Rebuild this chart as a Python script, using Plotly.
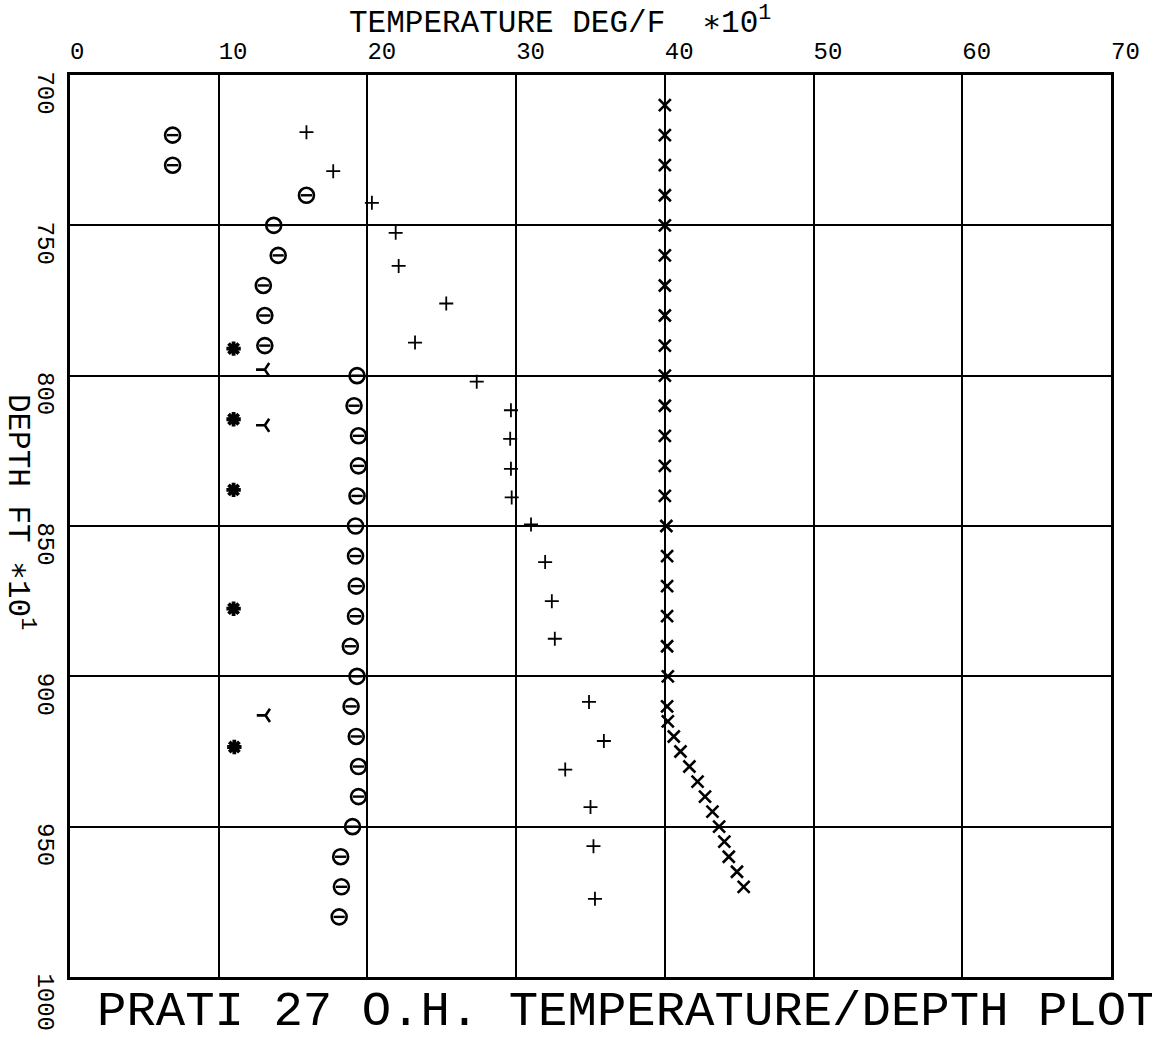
import plotly.graph_objects as go

FONT = "Liberation Mono, DejaVu Sans Mono, monospace"
NB = "\u00a0"

# Depth in ft x10, temperature in deg F x10 for each survey run
theta_depth = [720, 730, 740, 750, 760, 770, 780, 790, 800, 810, 820, 830, 840, 850,
               860, 870, 880, 890, 900, 910, 920, 930, 940, 950, 960, 970, 980]
theta_temp = [6.9, 6.9, 15.9, 13.7, 14.0, 13.0, 13.1, 13.1, 19.3, 19.1, 19.4, 19.4, 19.3, 19.2,
              19.2, 19.25, 19.2, 18.85, 19.3, 18.9, 19.25, 19.4, 19.4, 19.0, 18.2, 18.25, 18.1]

plus_depth = [719, 732, 742.5, 752.5, 763.5, 776, 789, 802, 811.5, 821, 831, 840.5,
              849.5, 862, 875, 887.5, 908.5, 921.5, 931, 943.5, 956.5, 974]
plus_temp = [15.9, 17.7, 20.3, 21.9, 22.1, 25.3, 23.2, 27.35, 29.65, 29.6, 29.65, 29.7,
             31.0, 31.95, 32.4, 32.6, 34.9, 35.9, 33.3, 35.0, 35.2, 35.3]

cross_depth = [710, 720, 730, 740, 750, 760, 770, 780, 790, 800, 810, 820, 830, 840,
               850, 860, 870, 880, 890, 900, 910, 915, 920, 925, 930, 935, 940, 945,
               950, 955, 960, 965, 970]
cross_temp = [40.0, 40.0, 40.0, 40.0, 40.0, 40.0, 40.0, 40.0, 40.0, 40.0, 40.0, 40.0, 40.0, 40.0,
              40.1, 40.15, 40.15, 40.15, 40.15, 40.2, 40.15, 40.2, 40.6, 41.05, 41.65, 42.2, 42.7, 43.2,
              43.65, 44.0, 44.3, 44.85, 45.3]

star_depth = [791, 814.5, 838, 877.5, 923.5]
star_temp = [11.0, 11.0, 11.0, 11.0, 11.05]

fork_depth = [798, 816.5, 913]
fork_temp = [13.1, 13.1, 13.15]

x_ticks = [0, 10, 20, 30, 40, 50, 60, 70]
y_ticks = [700, 750, 800, 850, 900, 950, 1000]

# labels start at their grid line: pad the front with as many spaces as characters
def lead(label):
    return NB * len(label) + label

x_ticktext = [lead(str(v)) for v in x_ticks]
y_ticktext = [lead(str(v)) for v in y_ticks]

BLACK = "#000000"
fig = go.Figure()

fig.add_trace(go.Scatter(x=theta_temp, y=theta_depth, mode="markers",
                         marker=dict(symbol="circle-open", size=15, color=BLACK,
                                     line=dict(width=2.6, color=BLACK))))
fig.add_trace(go.Scatter(x=theta_temp, y=theta_depth, mode="markers",
                         marker=dict(symbol="line-ew-open", size=8, color=BLACK,
                                     line=dict(width=2.4, color=BLACK))))
fig.add_trace(go.Scatter(x=plus_temp, y=plus_depth, mode="markers",
                         marker=dict(symbol="cross-thin-open", size=10, color=BLACK,
                                     line=dict(width=1.8, color=BLACK))))
fig.add_trace(go.Scatter(x=cross_temp, y=cross_depth, mode="markers",
                         marker=dict(symbol="x-thin-open", size=12, color=BLACK,
                                     line=dict(width=2.6, color=BLACK))))
fig.add_trace(go.Scatter(x=star_temp, y=star_depth, mode="markers",
                         marker=dict(symbol="asterisk-open", size=12, color=BLACK,
                                     line=dict(width=3.8, color=BLACK))))
fig.add_trace(go.Scatter(x=fork_temp, y=fork_depth, mode="markers",
                         marker=dict(symbol="y-left-open", size=11, color=BLACK,
                                     line=dict(width=2.6, color=BLACK))))

fig.update_layout(
    width=1152, height=1043,
    margin=dict(l=70, r=38, t=75, b=64),
    paper_bgcolor="white", plot_bgcolor="white",
    showlegend=False,
    font=dict(family=FONT, color=BLACK),
    xaxis=dict(range=[0, 70], side="top", tickvals=x_ticks, ticktext=x_ticktext,
               showgrid=True, gridcolor=BLACK, gridwidth=2, zeroline=False,
               showline=True, linecolor=BLACK, linewidth=2.5, mirror=True,
               ticks="", tickfont=dict(family=FONT, size=24, color=BLACK),
               ticklabelstandoff=4),
    yaxis=dict(range=[1000, 700], tickvals=y_ticks, ticktext=y_ticktext,
               showgrid=True, gridcolor=BLACK, gridwidth=2, zeroline=False,
               showline=True, linecolor=BLACK, linewidth=2.5, mirror=True,
               ticks="", tickangle=90, tickfont=dict(family=FONT, size=24, color=BLACK),
               ticklabelstandoff=0),
    annotations=[
        dict(text="TEMPERATURE DEG/F  \u221710<sup>1</sup>", xref="paper", yref="paper",
             x=(348 - 70) / 1044, y=1 + (75 - 21) / 904, xanchor="left", yanchor="middle",
             showarrow=False, font=dict(family=FONT, size=31, color=BLACK)),
        dict(text="DEPTH FT \u221710<sup>1</sup>", xref="paper", yref="paper",
             x=(20 - 70) / 1044, y=1 - (513 - 75) / 904, xanchor="center", yanchor="middle",
             textangle=90, showarrow=False, font=dict(family=FONT, size=31, color=BLACK)),
        dict(text="PRATI 27 O.H. TEMPERATURE/DEPTH PLOT", xref="paper", yref="paper",
             x=(95 - 70) / 1044, y=-(1014 - 979) / 904, xanchor="left", yanchor="middle",
             showarrow=False, font=dict(family=FONT, size=49, color=BLACK)),
    ],
)

fig.write_html("out.html")
